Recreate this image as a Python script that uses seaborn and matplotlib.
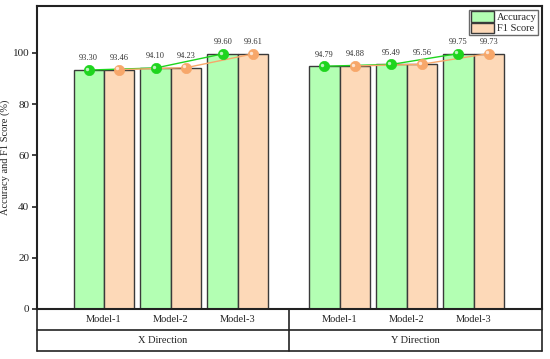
import matplotlib
matplotlib.use("Agg")
import matplotlib.pyplot as plt
import seaborn as sns
import pandas as pd
import numpy as np
from matplotlib.patches import Patch

directions = ["X Direction", "Y Direction"]
models = ["Model-1", "Model-2", "Model-3"]
accuracy_x = [93.30, 94.10, 99.60]
f1_x = [93.46, 94.23, 99.61]
accuracy_y = [94.79, 95.49, 99.75]
f1_y = [94.88, 95.56, 99.73]

sns.set_theme(style="white")
plt.rcParams['font.family'] = ['Liberation Serif', 'DejaVu Serif']

green_fill = "#B3FFB3"
orange_fill = "#FDD9B8"
green_dot = "#1ED51E"
orange_dot = "#F7A76A"
edge = "#3a3a3a"

# positions of model groups (numeric, with gap between directions)
pos_x = [0.0, 1.0, 2.0]
pos_y = [3.52, 4.52, 5.52]

rows = []
for d, pos, acc, f1 in [(directions[0], pos_x, accuracy_x, f1_x),
                        (directions[1], pos_y, accuracy_y, f1_y)]:
    for p, m, a, f in zip(pos, models, acc, f1):
        rows.append(dict(direction=d, model=m, pos=p, metric="Accuracy", value=a))
        rows.append(dict(direction=d, model=m, pos=p, metric="F1 Score", value=f))
df = pd.DataFrame(rows)

fig = plt.figure(figsize=(5.5, 3.59), dpi=100)
ax = fig.add_axes([37/550, 1-309/359, (542-37)/550, (309-6)/359])

sns.barplot(data=df, x="pos", y="value", hue="metric", native_scale=True,
            palette={"Accuracy": green_fill, "F1 Score": orange_fill},
            width=0.91, edgecolor=edge, linewidth=1.0, ax=ax, legend=False,
            errorbar=None, saturation=1)

bw = 0.455 / 2
df["xdot"] = df["pos"] + np.where(df["metric"] == "Accuracy", -bw, bw)
for d in directions:
    for metric, col in [("Accuracy", green_dot), ("F1 Score", orange_dot)]:
        sub = df[(df.direction == d) & (df.metric == metric)]
        sns.lineplot(data=sub, x="xdot", y="value", color=col, linewidth=1.0,
                     ax=ax, legend=False, zorder=4, sort=False)
        sns.scatterplot(data=sub, x="xdot", y="value", color=col, s=55,
                        edgecolor=col, linewidth=0.5, ax=ax, legend=False, zorder=5)
        ax.scatter(sub["xdot"] - 0.03, sub["value"] + 0.5, s=6, color="white",
                   alpha=0.7, zorder=6, linewidths=0)
for _, r in df.iterrows():
    ax.text(r["xdot"], r["value"] + 3.0, f"{r['value']:.2f}", ha="center",
            va="bottom", fontsize=6, color="#333333")

ax.set_xlim(-1.0, 6.54)
ax.set_ylim(0, 118.3)
ax.set_yticks([0, 20, 40, 60, 80, 100])
ax.tick_params(axis="y", direction="out", length=3.5, width=1.2, labelsize=8,
               left=True, colors="#222222", pad=2)
ax.set_xticks([])
ax.set_xlabel("")
ax.set_ylabel("Accuracy and F1 Score (%)", fontsize=7.5, color="#222222",
              labelpad=2)
for s in ax.spines.values():
    s.set_linewidth(1.5)
    s.set_color("#222222")

# table below the axis
tb = ax.get_xaxis_transform()
ymid1 = -21 / 303
ymid2 = -42 / 303
line_kw = dict(color="#222222", lw=1.2, clip_on=False, transform=tb)
ax.plot([-1.0, 6.54], [ymid1, ymid1], **line_kw)
ax.plot([-1.0, 6.54], [ymid2, ymid2], **line_kw)
ax.plot([-1.0, -1.0], [0, ymid2], **line_kw)
ax.plot([6.54, 6.54], [0, ymid2], **line_kw)
ax.plot([2.76, 2.76], [0, ymid2], **line_kw)
for p, m in zip(pos_x + pos_y, models + models):
    ax.text(p, ymid1 / 2, m, ha="center", va="center", fontsize=7.5,
            transform=tb, color="#222222")
ax.text((-1.0 + 2.76) / 2, (ymid1 + ymid2) / 2, directions[0], ha="center",
        va="center", fontsize=7.5, transform=tb, color="#222222")
ax.text((2.76 + 6.54) / 2, (ymid1 + ymid2) / 2, directions[1], ha="center",
        va="center", fontsize=7.5, transform=tb, color="#222222")

handles = [Patch(facecolor=green_fill, edgecolor=edge, label="Accuracy"),
           Patch(facecolor=orange_fill, edgecolor=edge, label="F1 Score")]
leg = ax.legend(handles=handles, loc="upper right", fontsize=7.5, frameon=True,
                fancybox=False, edgecolor="#444444", handlelength=2.2,
                handleheight=1.2, handletextpad=0.3, borderpad=0.15,
                labelspacing=0.05, borderaxespad=0.35)
leg.get_frame().set_linewidth(1.0)

fig.savefig("out.png", dpi=100)
